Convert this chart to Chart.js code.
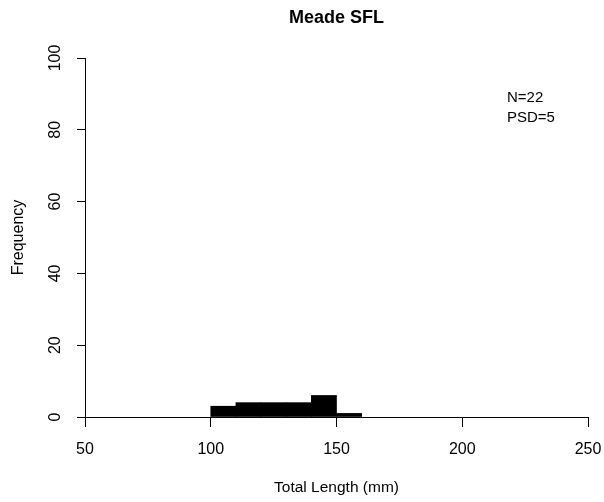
<!DOCTYPE html>
<html>
<head>
<meta charset="utf-8">
<script src="https://cdn.jsdelivr.net/npm/chart.js@4/dist/chart.umd.min.js"></script>
<style>
html,body{margin:0;padding:0;background:#fff;}
#wrap{width:604px;height:502px;position:relative;}
</style>
</head>
<body>
<div id="wrap"><canvas id="c" width="604" height="502"></canvas></div>
<script>
const chartTitle = "Meade SFL";
const xAxisTitle = "Total Length (mm)";
const yAxisTitle = "Frequency";
const binStarts = [100, 110, 120, 130, 140, 150];
const binWidth = 10;
const counts = [3, 4, 4, 4, 6, 1];
const xTicks = [50, 100, 150, 200, 250];
const yTicks = [0, 20, 40, 60, 80, 100];
const notes = ["N=22", "PSD=5"];

const FONT = "'Liberation Sans', Arial, sans-serif";

const points = binStarts.map((s, i) => ({x: s + binWidth / 2, y: counts[i]}));

const textPlugin = {
  id: 'texts',
  afterDraw(chart) {
    const ctx = chart.ctx;
    const a = chart.chartArea;
    ctx.save();
    ctx.fillStyle = '#000';
    ctx.textAlign = 'center';
    ctx.textBaseline = 'middle';
    ctx.font = "bold 18px " + FONT;
    ctx.fillText(chartTitle, (a.left + a.right) / 2, 18);
    ctx.font = "15.5px " + FONT;
    ctx.fillText(xAxisTitle, (a.left + a.right) / 2, 488);
    ctx.save();
    ctx.translate(19, (a.top + a.bottom) / 2);
    ctx.rotate(-Math.PI / 2);
    ctx.font = "16px " + FONT;
    ctx.fillText(yAxisTitle, 0, 0);
    ctx.restore();
    ctx.textAlign = 'left';
    ctx.font = "15px " + FONT;
    ctx.fillText(notes[0], 507, 98);
    ctx.fillText(notes[1], 507, 118);
    ctx.restore();
  }
};

new Chart(document.getElementById('c'), {
  type: 'bar',
  data: {
    datasets: [{
      data: points,
      backgroundColor: '#000',
      borderColor: '#000',
      borderWidth: 0,
      barPercentage: 1.0,
      categoryPercentage: 1.0,
      grouped: false
    }]
  },
  options: {
    responsive: false,
    animation: false,
    layout: {padding: {top: 58, right: 16, left: 0, bottom: 0}},
    plugins: {legend: {display: false}, tooltip: {enabled: false}, title: {display: false}},
    scales: {
      x: {
        type: 'linear',
        offset: false,
        min: 50, max: 250,
        afterBuildTicks(scale) { scale.ticks = xTicks.map(v => ({value: v})); },
        afterFit(scale) { scale.height = 85; scale.paddingLeft = 0; scale.paddingRight = 0; },
        border: {display: true, color: '#000', width: 1},
        grid: {display: true, offset: false, drawOnChartArea: false, drawTicks: true, tickLength: 10, color: '#000', tickColor: '#000'},
        ticks: {color: '#000', font: {family: FONT, size: 16}, padding: 13, maxRotation: 0, autoSkip: false}
      },
      y: {
        type: 'linear',
        min: 0, max: 100,
        afterBuildTicks(scale) { scale.ticks = yTicks.map(v => ({value: v})); },
        afterFit(scale) { scale.width = 85; scale.paddingTop = 0; scale.paddingBottom = 0; },
        border: {display: true, color: '#000', width: 1},
        grid: {display: true, drawOnChartArea: false, drawTicks: true, tickLength: 8, color: '#000', tickColor: '#000'},
        ticks: {color: '#000', font: {family: FONT, size: 16}, padding: 8, minRotation: 90, maxRotation: 90, crossAlign: 'center', autoSkip: false}
      }
    }
  },
  plugins: [textPlugin]
});
</script>
</body>
</html>
